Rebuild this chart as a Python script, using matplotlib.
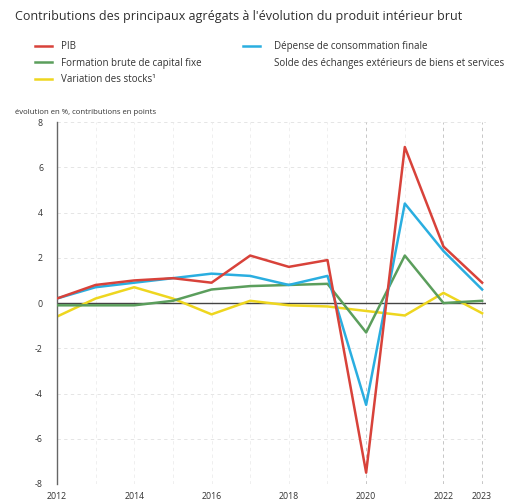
import matplotlib
matplotlib.use("Agg")
import matplotlib.pyplot as plt
from matplotlib.lines import Line2D

plt.rcParams['font.family'] = ['Open Sans', 'DejaVu Sans']

years = [2012, 2013, 2014, 2015, 2016, 2017, 2018, 2019, 2020, 2021, 2022, 2023]
pib = [0.2, 0.8, 1.0, 1.1, 0.9, 2.1, 1.6, 1.9, -7.5, 6.9, 2.5, 0.9]
conso = [0.2, 0.7, 0.9, 1.1, 1.3, 1.2, 0.8, 1.2, -4.5, 4.4, 2.3, 0.6]
fbcf = [-0.1, -0.1, -0.1, 0.1, 0.6, 0.75, 0.8, 0.85, -1.3, 2.1, 0.0, 0.1]
stocks = [-0.6, 0.2, 0.7, 0.2, -0.5, 0.1, -0.1, -0.15, -0.35, -0.55, 0.45, -0.45]

xticks = [2012, 2014, 2016, 2018, 2020, 2022, 2023]
yticks = [-8, -6, -4, -2, 0, 2, 4, 6, 8]

lab_pib = "PIB"
lab_conso = "Dépense de consommation finale"
lab_fbcf = "Formation brute de capital fixe"
lab_solde = "Solde des échanges extérieurs de biens et services"
lab_stocks = "Variation des stocks\u00b9"

c_red = '#d8423a'
c_blue = '#2aaee0'
c_green = '#5b9e5c'
c_yellow = '#eed61f'
c_text = '#333333'

fig = plt.figure(figsize=(5.22, 5.04), dpi=100)
ax = fig.add_axes([0.109, 0.0397, 0.822, 0.718])

ax.set_xlim(2012, 2023.1)
ax.set_ylim(-8, 8)

# light dashed grid
for y in yticks:
    ax.axhline(y, color='#e0e0e0', lw=0.6, ls=(0, (4, 4)), zorder=0)
for x in range(2012, 2024):
    col = '#bdbdbd' if x in (2020, 2022, 2023) else '#ececec'
    ax.axvline(x, color=col, lw=0.6, ls=(0, (4, 4)), zorder=0)

ax.axhline(0, color='#444444', lw=1.0, zorder=1)

ax.plot(years, stocks, color=c_yellow, lw=1.8, zorder=2)
ax.plot(years, fbcf, color=c_green, lw=1.8, zorder=3)
ax.plot(years, conso, color=c_blue, lw=1.8, zorder=4)
ax.plot(years, pib, color=c_red, lw=1.8, zorder=5)

for s in ['top', 'right', 'bottom']:
    ax.spines[s].set_visible(False)
ax.spines['left'].set_color('#666666')
ax.spines['left'].set_linewidth(1.0)

ax.set_xticks(xticks)
ax.set_xticklabels([str(x) for x in xticks])
ax.set_yticks(yticks)
ax.set_yticklabels([str(y) for y in yticks])
ax.tick_params(axis='both', length=0, labelsize=6.3, colors=c_text)
ax.tick_params(axis='y', pad=10)
ax.tick_params(axis='x', pad=6)

fig.text(0.029, 0.968, "Contributions des principaux agrégats à l'évolution du produit intérieur brut",
         fontsize=9.0, color='#2e2e2e', ha='left', va='center', fontweight='medium')
fig.text(0.029, 0.776, "évolution en %, contributions en points",
         fontsize=5.6, color=c_text, ha='left', va='center')

leg_kw = dict(loc='upper left', frameon=False, fontsize=7.0, handlelength=1.7,
              labelspacing=0.55, borderaxespad=0, borderpad=0)

h1 = [Line2D([], [], color=c_red, lw=1.8),
      Line2D([], [], color=c_green, lw=1.8),
      Line2D([], [], color=c_yellow, lw=1.8)]
leg1 = fig.legend(h1, [lab_pib, lab_fbcf, lab_stocks],
                  bbox_to_anchor=(0.068, 0.918), handletextpad=0.9, **leg_kw)
h2 = [Line2D([], [], color=c_blue, lw=1.8),
      Line2D([], [], color='white', lw=1.8)]
leg2 = fig.legend(h2, [lab_conso, lab_solde],
                  bbox_to_anchor=(0.466, 0.918), handletextpad=1.5, **leg_kw)
for leg in (leg1, leg2):
    for t in leg.get_texts():
        t.set_color(c_text)

fig.savefig("out.png", dpi=100)
